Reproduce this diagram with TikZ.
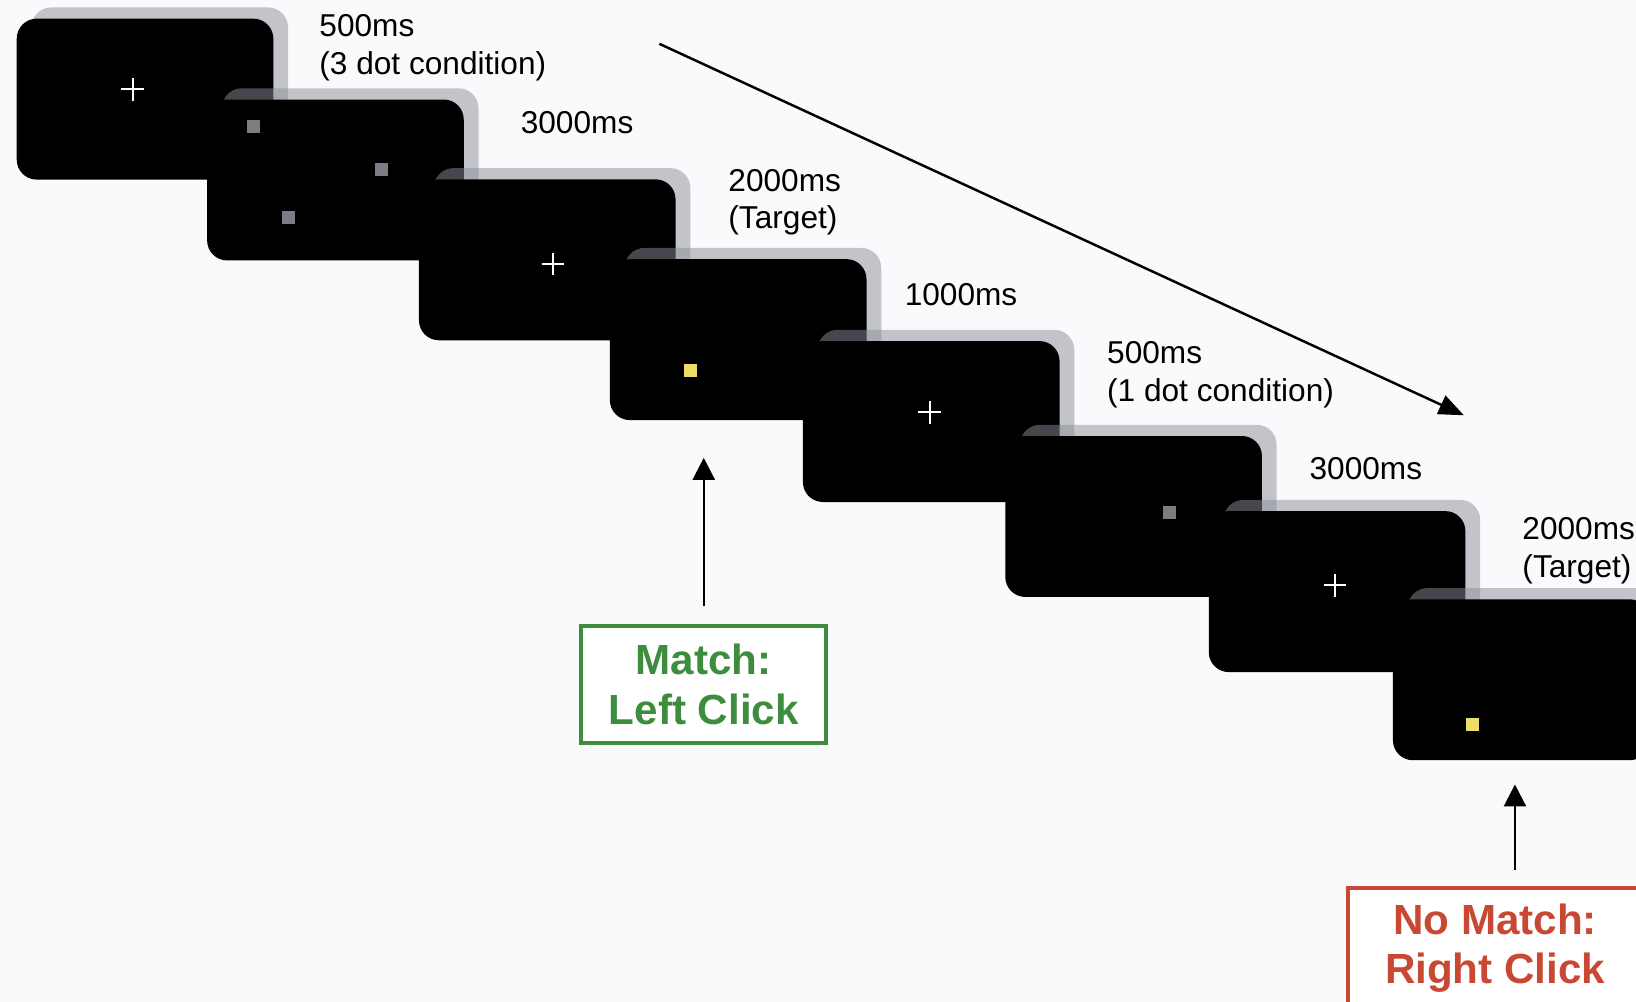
\documentclass[tikz,border=0pt]{standalone}
\usepackage{fontspec}
\setmainfont{Liberation Sans}
\usepackage{xcolor}
\usetikzlibrary{arrows.meta,positioning,calc,shadows}

\definecolor{paper}{RGB}{250,250,252}
\definecolor{shadowgray}{RGB}{140,143,152}
\definecolor{dotgray}{RGB}{125,124,132}
\definecolor{dotyellow}{RGB}{238,222,105}
\definecolor{matchgreen}{RGB}{62,140,62}
\definecolor{nomatchred}{RGB}{200,72,52}

\begin{document}
\begin{tikzpicture}[x=0.010434cm, y=-0.010434cm, line width=0.7pt,
    font=\fontsize{9}{10.7}\selectfont,
    screen/.style={fill=black, rounded corners=0.2cm, inner sep=0pt,
        minimum width=2.567cm, minimum height=1.61cm,
        general shadow={fill=shadowgray, opacity=0.5, shadow xshift=4.2pt, shadow yshift=3.2pt}},
    timelabel/.style={anchor=north west, inner sep=0pt, align=left},
    fixcross/.style={draw=white, line width=0.6pt},
    stimdot/.style={minimum size=0.13cm, inner sep=0pt},
    response/.style={draw, line width=1.1pt, fill=white, align=center,
        font=\fontsize{12}{14}\selectfont\bfseries},
    pointer/.style={-{Triangle[length=0.22cm, width=0.22cm]}}]
        \useasboundingbox (0,0) rectangle (1568,960);
        \fill[paper] (0,0) rectangle (1568,960);
        \clip (0,0) rectangle (1568,960);

        % Trial sequence of screens, drawn back to front.
        \foreach \n/\x/\y in {1/139/95, 2/321.5/172.5, 3/524.5/249, 4/707.5/325.5,
                5/892.5/404, 6/1086.5/495, 7/1281.5/567, 8/1458/651.5}
            \node[screen] (s\n) at (\x,\y) {};

        % Fixation crosses.
        \foreach \x/\y in {127.4/85.7, 530/253, 891/395, 1279.5/560.7}
            \draw[fixcross] (\x,\y) +(-11,0) -- +(11,0) +(0,-11) -- +(0,11);

        % Memory dots and targets.
        \node[stimdot, fill=dotgray] (d1) at (243,121) {};
        \node[stimdot, fill=dotgray] (d2) at (366,162) {};
        \node[stimdot, fill=dotgray] (d3) at (276.6,208) {};
        \node[stimdot, fill=dotgray] (d4) at (1121,491) {};
        \node[stimdot, fill=dotyellow] (t1) at (661.5,355.5) {};
        \node[stimdot, fill=dotyellow] (t2) at (1411,694) {};

        % Durations.
        \node[timelabel] (l1) at (305,13) {500ms\\(3 dot condition)};
        \node[timelabel] (l2) at (498,106) {3000ms};
        \node[timelabel] (l3) at (697,161) {2000ms\\(Target)};
        \node[timelabel] (l4) at (866,270) {1000ms};
        \node[timelabel] (l5) at (1060,326) {500ms\\(1 dot condition)};
        \node[timelabel] (l6) at (1254,437) {3000ms};
        \node[timelabel] (l7) at (1458,495) {2000ms\\(Target)};

        % Time arrow.
        \coordinate (tstart) at (632,42);
        \coordinate (tend) at (1403,398);
        \draw[-{Triangle[length=0.25cm, width=0.2cm]}] (tstart) -- (tend);

        % Responses.
        \node[response, draw=matchgreen, text=matchgreen, minimum width=2.45cm, minimum height=1.17cm]
        (match) at (674.5,656) {Match:\\Left Click};
        \node[response, draw=nomatchred, text=nomatchred, minimum width=2.94cm, minimum height=1.21cm]
        (nomatch) at (1433,909) {No Match:\\Right Click};
        \draw[pointer, shorten <=0.177cm, shorten >=0.365cm]
        (match.north) -- (match.north |- s4.south);
        \draw[pointer, shorten <=0.157cm, shorten >=0.23cm]
        ([xshift=0.198cm]nomatch.north) -- ([xshift=0.198cm]nomatch.north |- s8.south);
    \end{tikzpicture}
\end{document}
